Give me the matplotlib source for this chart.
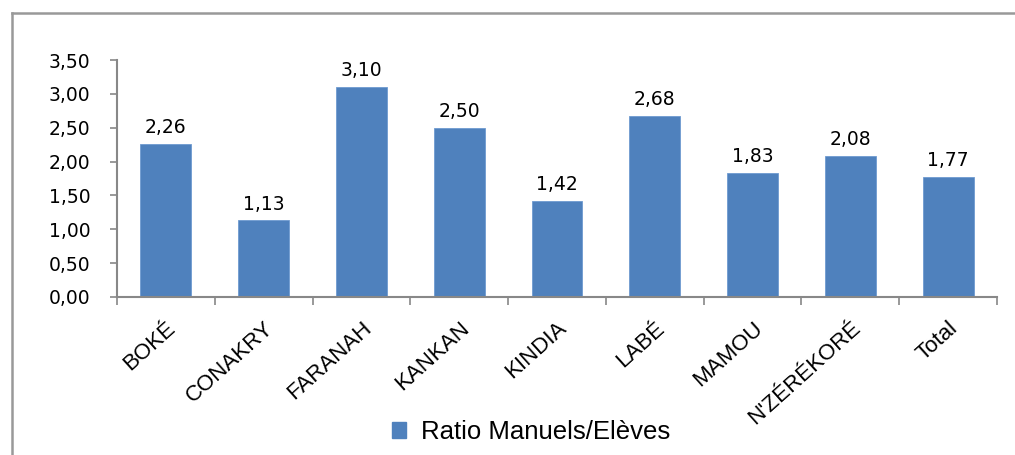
import numpy as np
import matplotlib
matplotlib.use("Agg")
from matplotlib import pyplot as plt
from matplotlib.lines import Line2D

categories = ["BOKÉ", "CONAKRY", "FARANAH", "KANKAN", "KINDIA", "LABÉ", "MAMOU", "N'ZÉRÉKORÉ", "Total"]
values = [2.26, 1.13, 3.10, 2.50, 1.42, 2.68, 1.83, 2.08, 1.77]
series_name = "Ratio Manuels/Elèves"
yticks = [0.0, 0.5, 1.0, 1.5, 2.0, 2.5, 3.0, 3.5]

fig = plt.figure(figsize=(10.15, 4.55), dpi=100)
ax = fig.add_axes([117/1015, 1-297/455, (997-117)/1015, (297-60)/455])

x = np.arange(len(categories))
bars = ax.bar(x, values, width=0.52, color="#4F81BD", edgecolor="#6F9AD0", linewidth=0.6,
              label=series_name, zorder=2)

for xi, v in zip(x, values):
    ax.annotate(f"{v:.2f}".replace(".", ","), (xi, v), xytext=(0, 5), textcoords="offset points",
                ha="center", va="bottom", fontsize=13.5, family="DejaVu Sans")

ax.set_xlim(-0.5, len(categories) - 0.5)
ax.set_ylim(0, 3.5)
ax.set_yticks(yticks)
ax.set_yticklabels([f"{t:.2f}".replace(".", ",") for t in yticks], fontsize=13.5, family="DejaVu Sans")

# category labels at bar centres, tick marks at boundaries
ax.set_xticks(x)
ax.set_xticklabels(categories, rotation=42, ha="right", rotation_mode="anchor",
                   fontsize=16, family="Liberation Sans")
ax.tick_params(axis="x", which="major", length=0, pad=15)
ax.set_xticks(np.arange(-0.5, len(categories)), minor=True)
ax.tick_params(axis="x", which="minor", length=6, color="#888888", width=1.2, direction="out")
ax.tick_params(axis="y", length=5, color="#888888", width=1.2, pad=14)

for s in ["top", "right"]:
    ax.spines[s].set_visible(False)
for s in ["left", "bottom"]:
    ax.spines[s].set_color("#888888")
    ax.spines[s].set_linewidth(1.5)

handle = [plt.Rectangle((0, 0), 1, 1, color="#4F81BD")]
fig.legend(handle, [series_name], loc="center", bbox_to_anchor=(531/1015, 1-432/455),
           frameon=False, prop={"family": "Liberation Sans", "size": 18.5},
           handlelength=0.55, handleheight=0.55, handletextpad=0.6)

# outer chart frame
fig.add_artist(Line2D([12/1015, 12/1015], [0, 1-13/455], transform=fig.transFigure, color="#999999", lw=1.8))
fig.add_artist(Line2D([12/1015, 1], [1-13/455, 1-13/455], transform=fig.transFigure, color="#999999", lw=1.8))

fig.savefig("out.png", dpi=100)
